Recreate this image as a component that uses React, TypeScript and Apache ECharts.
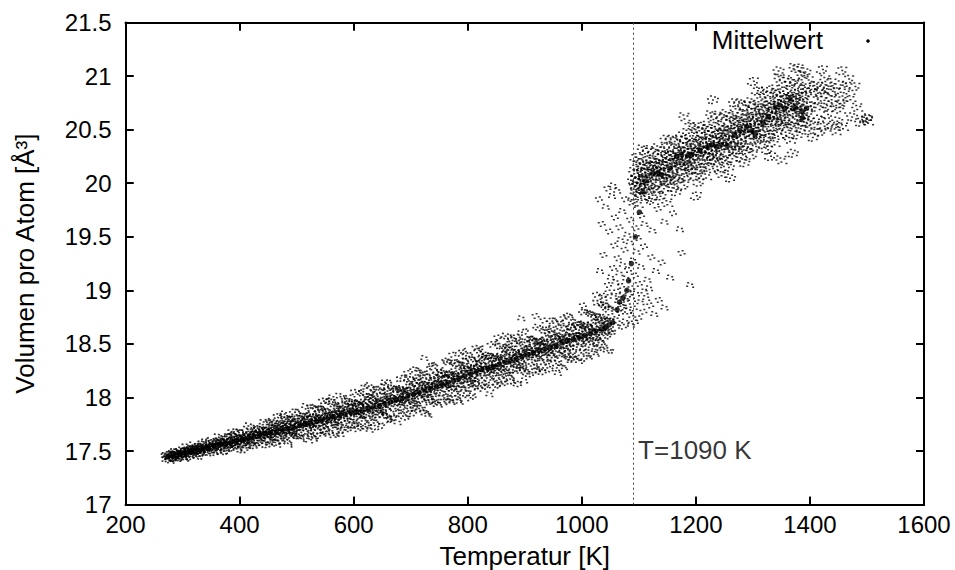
import React, { useEffect, useRef } from 'react';
import * as echarts from 'echarts';

// Axis ranges and ticks
const T_MIN = 200, T_MAX = 1600, T_STEP = 200;
const V_MIN = 17, V_MAX = 21.5, V_STEP = 0.5;
const tempTicks = [200, 400, 600, 800, 1000, 1200, 1400, 1600];
const volTicks = [17, 17.5, 18, 18.5, 19, 19.5, 20, 20.5, 21, 21.5];
const xTitle = 'Temperatur [K]';
const yTitle = 'Volumen pro Atom [Å³]';
const legendName = 'Mittelwert';
const transitionT = 1090;
const transitionLabel = 'T=1090 K';
const transitionLabelV = 17.51;

// Individual samples, lower (solid) branch
const cloudLow: [number, number][] = [
[271,17.45],[273,17.43],[274,17.47],[276,17.44],[277,17.46],[279,17.42],[280,17.45],[282,17.47],[283,17.44],[284,17.50],[286,17.46],[287,17.47],[288,17.42],[289,17.48],
[290,17.45],[292,17.48],[294,17.44],[295,17.47],[297,17.51],[298,17.47],[300,17.50],[301,17.43],[303,17.49],[304,17.47],[305,17.51],[307,17.48],[308,17.54],[309,17.46],
[311,17.52],[312,17.49],[313,17.50],[315,17.45],[316,17.52],[318,17.50],[319,17.55],[321,17.48],[322,17.52],[324,17.50],[325,17.45],[326,17.55],[328,17.52],[329,17.50],
[330,17.53],[331,17.48],[333,17.52],[334,17.54],[336,17.51],[337,17.59],[339,17.54],[340,17.49],[341,17.56],[343,17.52],[345,17.55],[346,17.48],[347,17.54],[349,17.58],
[351,17.55],[353,17.52],[354,17.59],[356,17.54],[357,17.57],[359,17.50],[360,17.55],[362,17.58],[363,17.53],[364,17.63],[366,17.55],[367,17.58],[368,17.49],[369,17.59],
[370,17.55],[372,17.59],[374,17.53],[375,17.58],[377,17.64],[378,17.56],[380,17.61],[381,17.51],[383,17.59],[384,17.56],[385,17.63],[387,17.58],[388,17.68],[389,17.55],
[391,17.64],[392,17.58],[393,17.61],[395,17.53],[396,17.63],[398,17.60],[399,17.68],[401,17.56],[402,17.62],[404,17.59],[405,17.51],[406,17.67],[408,17.62],[409,17.58],
[410,17.63],[411,17.56],[413,17.61],[414,17.65],[416,17.59],[417,17.73],[419,17.64],[420,17.56],[421,17.68],[423,17.62],[425,17.66],[426,17.55],[427,17.64],[429,17.70],
[431,17.65],[433,17.60],[434,17.71],[436,17.64],[437,17.68],[439,17.58],[440,17.65],[442,17.70],[443,17.63],[444,17.77],[446,17.65],[447,17.69],[448,17.56],[449,17.70],
[450,17.64],[452,17.71],[454,17.61],[455,17.68],[457,17.77],[458,17.66],[460,17.72],[461,17.58],[463,17.69],[464,17.64],[465,17.76],[467,17.68],[468,17.82],[469,17.63],
[471,17.75],[472,17.68],[473,17.72],[475,17.60],[476,17.74],[478,17.70],[479,17.82],[481,17.65],[482,17.74],[484,17.69],[485,17.58],[486,17.80],[488,17.73],[489,17.68],
[490,17.75],[491,17.65],[493,17.72],[494,17.78],[496,17.69],[497,17.87],[499,17.75],[500,17.64],[501,17.81],[503,17.72],[505,17.78],[506,17.63],[507,17.75],[509,17.83],
[511,17.76],[513,17.69],[514,17.83],[516,17.74],[517,17.79],[519,17.66],[520,17.76],[522,17.82],[523,17.72],[524,17.91],[526,17.76],[527,17.80],[528,17.63],[529,17.82],
[530,17.74],[532,17.82],[534,17.69],[535,17.79],[537,17.90],[538,17.76],[540,17.84],[541,17.65],[543,17.81],[544,17.74],[545,17.89],[547,17.79],[548,17.97],[549,17.72],
[551,17.88],[552,17.78],[553,17.83],[555,17.68],[556,17.86],[558,17.81],[559,17.96],[561,17.74],[562,17.85],[564,17.79],[565,17.65],[566,17.93],[568,17.84],[569,17.77],
[570,17.86],[571,17.74],[573,17.83],[574,17.90],[576,17.79],[577,18.01],[579,17.86],[580,17.72],[581,17.93],[583,17.82],[585,17.89],[586,17.70],[587,17.86],[589,17.96],
[591,17.87],[593,17.78],[594,17.96],[596,17.84],[597,17.91],[599,17.74],[600,17.87],[602,17.95],[603,17.82],[604,18.05],[606,17.86],[607,17.92],[608,17.71],[609,17.94],
[610,17.84],[612,17.94],[614,17.79],[615,17.90],[617,18.03],[618,17.86],[620,17.96],[621,17.73],[623,17.92],[624,17.84],[625,18.01],[627,17.89],[628,18.10],[629,17.81],
[631,18.00],[632,17.89],[633,17.94],[635,17.77],[636,17.97],[638,17.92],[639,18.08],[641,17.84],[642,17.96],[644,17.89],[645,17.73],[646,18.05],[648,17.95],[649,17.87],
[650,17.97],[651,17.84],[653,17.94],[654,18.01],[656,17.89],[657,18.14],[659,17.98],[660,17.82],[661,18.06],[663,17.94],[665,18.01],[666,17.80],[667,17.97],[669,18.09],
[671,17.99],[673,17.90],[674,18.08],[676,17.96],[677,18.03],[679,17.86],[680,17.99],[682,18.07],[683,17.94],[684,18.18],[686,17.98],[687,18.04],[688,17.82],[689,18.06],
[690,17.96],[692,18.07],[694,17.90],[695,18.02],[697,18.17],[698,17.98],[700,18.10],[701,17.85],[703,18.05],[704,17.96],[705,18.15],[707,18.02],[708,18.26],[709,17.94],
[711,18.14],[712,18.02],[713,18.08],[715,17.90],[716,18.12],[718,18.05],[719,18.23],[721,17.97],[722,18.11],[724,18.03],[725,17.86],[726,18.20],[728,18.09],[729,18.01],
[730,18.12],[731,17.98],[733,18.08],[734,18.16],[736,18.03],[737,18.30],[739,18.12],[740,17.96],[741,18.20],[743,18.08],[745,18.16],[746,17.94],[747,18.12],[749,18.24],
[751,18.13],[753,18.04],[754,18.23],[756,18.10],[757,18.18],[759,18.00],[760,18.13],[762,18.22],[763,18.08],[764,18.34],[766,18.13],[767,18.19],[768,17.96],[769,18.21],
[770,18.10],[772,18.22],[774,18.04],[775,18.17],[777,18.33],[778,18.13],[780,18.25],[781,17.99],[783,18.20],[784,18.11],[785,18.31],[787,18.17],[788,18.42],[789,18.08],
[791,18.30],[792,18.17],[793,18.23],[795,18.04],[796,18.27],[798,18.21],[799,18.39],[801,18.12],[802,18.26],[804,18.18],[805,18.00],[806,18.36],[808,18.25],[809,18.16],
[810,18.28],[811,18.13],[813,18.24],[814,18.32],[816,18.18],[817,18.46],[819,18.28],[820,18.11],[821,18.36],[823,18.23],[825,18.31],[826,18.09],[827,18.27],[829,18.40],
[831,18.29],[833,18.19],[834,18.39],[836,18.25],[837,18.33],[839,18.14],[840,18.28],[842,18.38],[843,18.23],[844,18.50],[846,18.28],[847,18.34],[848,18.10],[849,18.37],
[850,18.25],[852,18.38],[854,18.19],[855,18.32],[857,18.48],[858,18.28],[860,18.40],[861,18.13],[863,18.35],[864,18.25],[865,18.46],[867,18.32],[868,18.57],[869,18.23],
[871,18.45],[872,18.31],[873,18.38],[875,18.18],[876,18.42],[878,18.35],[879,18.54],[881,18.26],[882,18.40],[884,18.32],[885,18.13],[886,18.51],[888,18.39],[889,18.30],
[890,18.42],[891,18.26],[893,18.38],[894,18.46],[896,18.32],[897,18.61],[899,18.42],[900,18.25],[901,18.51],[903,18.37],[905,18.46],[906,18.22],[907,18.42],[909,18.55],
[911,18.44],[913,18.33],[914,18.54],[916,18.40],[917,18.48],[919,18.28],[920,18.43],[922,18.53],[923,18.37],[924,18.65],[926,18.43],[927,18.49],[928,18.24],[929,18.52],
[930,18.40],[932,18.52],[934,18.33],[935,18.47],[937,18.63],[938,18.42],[940,18.55],[941,18.27],[943,18.49],[944,18.40],[945,18.60],[947,18.46],[948,18.72],[949,18.37],
[951,18.59],[952,18.46],[953,18.52],[955,18.32],[956,18.56],[958,18.49],[959,18.69],[961,18.40],[962,18.55],[964,18.47],[965,18.28],[966,18.65],[968,18.54],[969,18.44],
[970,18.57],[971,18.40],[973,18.52],[974,18.61],[976,18.46],[977,18.76],[979,18.57],[980,18.38],[981,18.66],[983,18.51],[985,18.60],[986,18.36],[987,18.56],[989,18.70],
[991,18.58],[993,18.47],[994,18.68],[996,18.54],[997,18.63],[999,18.42],[1000,18.57],[1002,18.67],[1003,18.51],[1004,18.80],[1006,18.57],[1007,18.63],[1008,18.37],[1009,18.66],
[1010,18.54],[1012,18.67],[1014,18.47],[1015,18.61],[1017,18.78],[1018,18.57],[1020,18.70],[1021,18.41],[1023,18.64],[1024,18.54],[1025,18.76],[1027,18.61],[1028,18.88],[1029,18.52],
[1031,18.75],[1032,18.61],[1033,18.68],[1035,18.47],[1036,18.72],[1038,18.65],[1039,18.86],[1041,18.56],[1042,18.72],[1044,18.63],[1045,18.44],[1046,18.83],[1048,18.71],[1049,18.61]
];

// Scattered samples at the edges of the lower branch
const cloudLowEdge: [number, number][] = [
[452,17.77],[478,17.85],[489,17.80],[515,17.92],[533,17.89],[561,18.00],[572,17.92],[598,18.00],[619,18.10],[637,18.03],[655,18.11],[683,18.09],[694,18.23],[712,18.19],[738,18.28],[751,18.22],[773,18.40],[796,18.34],[818,18.44],[829,18.38],[852,18.56],[873,18.50],[886,18.57],[912,18.54],[933,18.72],[947,18.65],[968,18.74],[981,18.68],[1002,18.86],[1013,18.79],[1037,18.95],
[466,17.56],[497,17.64],[522,17.60],[546,17.69],[577,17.66],[603,17.75],[628,17.70],[662,17.80],[677,17.77],[705,17.90],[731,17.84],[763,17.97],[786,17.96],[807,18.08],[838,18.03],[861,18.16],[899,18.16],[921,18.26],[958,18.23],[977,18.35],[995,18.34],[1026,18.47],
[894,18.74],[919,18.76],[724,18.37],[763,18.33]
];

// Individual samples across the transition
const cloudTransition: [number, number][] = [
[1052,18.76],[1058,18.82],[1061,18.72],[1064,18.90],[1067,18.79],[1070,18.95],[1073,18.84],[1076,18.71],[1079,18.88],[1082,18.98],[1085,18.77],[1088,18.92],[1091,18.83],[1095,18.97],[1099,18.74],[1103,18.89],[1108,18.80],[1113,18.93],[1120,18.86],[1127,18.78],[1135,18.91],[1145,18.84],[1043,18.86],[1038,18.93],[1047,18.98],[1056,18.94],[1062,18.99],[1069,18.86],[1075,18.93],[1081,18.81],[1093,18.70],[1110,18.99],[1025,18.96],[1060,18.67],[1072,18.66],[1086,18.68],
[1046,19.05],[1051,19.12],[1055,19.21],[1059,19.08],[1063,19.30],[1066,19.16],[1069,19.04],[1072,19.24],[1075,19.38],[1078,19.11],[1081,19.19],[1084,19.45],[1087,19.02],[1090,19.28],[1093,19.14],[1096,19.36],[1100,19.06],[1104,19.22],[1109,19.41],[1115,19.10],[1122,19.31],[1130,19.18],[1140,19.26],[1155,19.12],[1175,19.35],[1190,19.05],[1038,19.33],[1032,19.18],[1057,19.42],[1068,19.47],[1098,19.49],[1118,19.02],
[1035,19.62],[1042,19.78],[1048,19.55],[1053,19.88],[1058,19.68],[1062,19.93],[1066,19.59],[1071,19.74],[1076,19.85],[1080,19.52],[1085,19.66],[1089,19.81],[1094,19.58],[1099,19.90],[1104,19.70],[1110,19.62],[1116,19.84],[1124,19.56],[1133,19.76],[1145,19.64],[1160,19.72],[1172,19.57],[1045,19.95],[1055,19.98],[1030,19.85],[1092,19.97]
];

// Individual samples, upper (liquid) branch
const cloudHigh: [number, number][] = [
[1090,20.03],[1091,19.88],[1092,20.11],[1093,19.98],[1094,20.24],[1095,20.03],[1096,19.93],[1097,20.09],[1098,19.81],[1099,20.16],[1100,20.03],[1101,20.21],[1102,19.97],[1103,20.07],[1104,19.88],[1105,20.15],[1106,20.02],[1107,20.32],[1108,19.94],[1109,20.10],
[1110,19.98],[1111,20.17],[1112,20.05],[1113,20.23],[1114,19.94],[1115,20.11],[1116,20.31],[1117,20.02],[1118,20.16],[1119,19.88],[1120,20.09],[1121,19.98],[1122,20.22],[1123,20.06],[1124,20.16],[1125,19.84],[1126,20.29],[1127,20.09],[1128,19.94],[1129,20.20],
[1130,20.11],[1131,19.96],[1132,20.19],[1133,20.06],[1134,20.33],[1135,20.11],[1136,20.01],[1137,20.17],[1138,19.88],[1139,20.25],[1140,20.11],[1141,20.30],[1142,20.05],[1143,20.16],[1144,19.95],[1145,20.23],[1146,20.10],[1147,20.41],[1148,20.02],[1149,20.18],
[1150,20.05],[1151,20.26],[1152,20.13],[1153,20.33],[1154,20.02],[1155,20.20],[1156,20.41],[1157,20.10],[1158,20.25],[1159,19.96],[1160,20.19],[1161,20.07],[1162,20.33],[1163,20.15],[1164,20.26],[1165,19.92],[1166,20.40],[1167,20.19],[1168,20.03],[1169,20.30],
[1170,20.22],[1171,20.05],[1172,20.30],[1173,20.16],[1174,20.44],[1175,20.21],[1176,20.11],[1177,20.28],[1178,19.98],[1179,20.36],[1180,20.21],[1181,20.41],[1182,20.16],[1183,20.26],[1184,20.06],[1185,20.34],[1186,20.21],[1187,20.53],[1188,20.13],[1189,20.29],
[1190,20.16],[1191,20.38],[1192,20.24],[1193,20.44],[1194,20.12],[1195,20.31],[1196,20.53],[1197,20.21],[1198,20.36],[1199,20.06],[1200,20.29],[1201,20.17],[1202,20.44],[1203,20.25],[1204,20.36],[1205,20.01],[1206,20.51],[1207,20.29],[1208,20.12],[1209,20.41],
[1210,20.32],[1211,20.15],[1212,20.40],[1213,20.26],[1214,20.54],[1215,20.31],[1216,20.21],[1217,20.38],[1218,20.07],[1219,20.46],[1220,20.31],[1221,20.51],[1222,20.25],[1223,20.36],[1224,20.15],[1225,20.45],[1226,20.31],[1227,20.64],[1228,20.22],[1229,20.39],
[1230,20.25],[1231,20.48],[1232,20.34],[1233,20.55],[1234,20.21],[1235,20.41],[1236,20.63],[1237,20.30],[1238,20.46],[1239,20.14],[1240,20.39],[1241,20.26],[1242,20.53],[1243,20.34],[1244,20.46],[1245,20.09],[1246,20.61],[1247,20.38],[1248,20.21],[1249,20.50],
[1250,20.41],[1251,20.23],[1252,20.50],[1253,20.35],[1254,20.65],[1255,20.41],[1256,20.29],[1257,20.48],[1258,20.15],[1259,20.57],[1260,20.40],[1261,20.62],[1262,20.34],[1263,20.46],[1264,20.23],[1265,20.55],[1266,20.41],[1267,20.75],[1268,20.31],[1269,20.50],
[1270,20.35],[1271,20.58],[1272,20.44],[1273,20.66],[1274,20.31],[1275,20.51],[1276,20.75],[1277,20.40],[1278,20.57],[1279,20.24],[1280,20.49],[1281,20.36],[1282,20.65],[1283,20.45],[1284,20.57],[1285,20.19],[1286,20.72],[1287,20.49],[1288,20.31],[1289,20.61],
[1290,20.52],[1291,20.34],[1292,20.61],[1293,20.46],[1294,20.76],[1295,20.52],[1296,20.40],[1297,20.59],[1298,20.26],[1299,20.68],[1300,20.51],[1301,20.73],[1302,20.45],[1303,20.57],[1304,20.34],[1305,20.66],[1306,20.52],[1307,20.86],[1308,20.42],[1309,20.61],
[1310,20.46],[1311,20.70],[1312,20.55],[1313,20.77],[1314,20.42],[1315,20.62],[1316,20.86],[1317,20.52],[1318,20.68],[1319,20.36],[1320,20.61],[1321,20.48],[1322,20.76],[1323,20.57],[1324,20.68],[1325,20.31],[1326,20.84],[1327,20.61],[1328,20.43],[1329,20.73],
[1330,20.64],[1331,20.46],[1332,20.73],[1333,20.58],[1334,20.88],[1335,20.64],[1336,20.52],[1337,20.71],[1338,20.38],[1339,20.80],[1340,20.63],[1341,20.85],[1342,20.57],[1343,20.69],[1344,20.46],[1345,20.78],[1346,20.64],[1347,20.98],[1348,20.54],[1349,20.73],
[1350,20.58],[1351,20.81],[1352,20.67],[1353,20.88],[1354,20.54],[1355,20.74],[1356,20.97],[1357,20.62],[1358,20.79],[1359,20.46],[1360,20.71],[1361,20.58],[1362,20.86],[1363,20.67],[1364,20.78],[1365,20.41],[1366,20.94],[1367,20.71],[1368,20.53],[1369,20.82],
[1370,20.73],[1371,20.55],[1372,20.81],[1373,20.66],[1374,20.95],[1375,20.71],[1376,20.59],[1377,20.77],[1378,20.45],[1379,20.85],[1380,20.69],[1381,20.90],[1382,20.62],[1383,20.73],[1384,20.51],[1385,20.81],[1386,20.67],[1387,21.00],[1388,20.57],[1389,20.75],
[1390,20.61],[1391,20.82],[1393,20.88],[1394,20.57],[1396,20.96],[1397,20.64],[1399,20.49],[1400,20.72],[1402,20.85],[1405,20.43],[1406,20.91],[1408,20.54],
[1410,20.71],[1412,20.78],[1414,20.91],[1416,20.60],[1418,20.48],[1419,20.83],[1421,20.87],[1424,20.53],[1427,20.97],[1429,20.74],
[1430,20.64],[1432,20.71],[1433,20.88],[1436,20.94],[1438,20.80],[1439,20.54],[1442,20.85],[1445,20.49],[1448,20.58],
[1450,20.74],[1453,20.69],[1454,20.92],[1457,20.78],[1458,20.53],[1461,20.88],[1467,20.97],
[1471,20.80],[1474,20.62],[1478,20.90],[1483,20.71],[1488,20.57],[1497,20.60],[1502,20.58],[1500,20.61],
[1455,21.05],[1380,21.07],[1345,21.05],[1421,21.06],[1373,21.08],[1392,21.04],[1300,20.95],[1180,20.62],[1230,20.78],[1330,20.25],[1350,20.22],[1260,20.05],[1200,19.88],[1150,19.82],[1370,20.28]
];

// Mittelwert (mean) points
const meanLow: [number, number][] = [
[275,17.45],[285,17.46],[295,17.47],[305,17.48],[315,17.50],[325,17.51],[335,17.52],[345,17.53],[355,17.55],[365,17.56],[375,17.57],[385,17.58],[395,17.60],[405,17.61],[415,17.62],[425,17.63],[435,17.65],[445,17.66],[455,17.67],[465,17.69],[475,17.70],[485,17.71],[495,17.72],[505,17.74],[515,17.75],[525,17.76],[535,17.78],[545,17.79],[555,17.80],[565,17.82],[575,17.83],[585,17.84],[595,17.86],[605,17.87],[615,17.88],[625,17.90],[635,17.91],[645,17.92],[655,17.94],[665,17.96],[675,17.98],[685,17.99],[695,18.01],[705,18.03],[715,18.05],[725,18.07],[735,18.08],[745,18.10],[755,18.12],[765,18.14],[775,18.16],[785,18.18],[795,18.20],[805,18.22],[815,18.24],[825,18.26],[835,18.27],[845,18.29],[855,18.31],[865,18.33],[875,18.35],[885,18.36],[895,18.38],[905,18.40],[915,18.42],[925,18.44],[935,18.45],[945,18.47],[955,18.49],[965,18.51],[975,18.53],[985,18.54],[995,18.56],[1005,18.58],[1015,18.60],[1025,18.62],[1035,18.64],[1042,18.66],[1048,18.68]
];
const meanTransition: [number, number][] = [
[1054,18.70],[1062,18.82],[1066,18.89],[1072,18.93],[1079,19.00],[1082,19.09],[1087,19.25],[1094,19.50],[1101,19.73],[1107,19.92],[1111,20.02]
];
const meanHigh: [number, number][] = [
[1125,20.09],[1134,20.10],[1140,20.08],[1155,20.14],[1166,20.25],[1175,20.27],[1186,20.26],[1193,20.27],[1207,20.31],[1220,20.34],[1228,20.36],[1236,20.34],[1245,20.36],[1255,20.35],[1268,20.45],[1277,20.49],[1289,20.53],[1298,20.49],[1304,20.46],[1318,20.56],[1327,20.62],[1339,20.71],[1347,20.73],[1356,20.70],[1365,20.79],[1374,20.70],[1386,20.67],[1387,20.61],[1394,20.70]
];

const FONT = '"Liberation Sans", Arial, sans-serif';

// Marker shapes: every sample is drawn as a small speckle of dashes (dense gnuplot dot cloud look)
const SPECKLE_LOW = [
  'path://M0,2h2v1.5h-2z M3,0h2v1.5h-2z M5,3h2v1.5h-2z M8,1h2v1.5h-2z M10,4.5h2v1.5h-2z M2,4.5h2v1.5h-2z M6,0.5h2v1.5h-2z M9,2.8h2v1.5h-2z',
  'path://M0,3.5h2v1.5h-2z M1,0h2v1.5h-2z M4,2h2v1.5h-2z M7,4.5h2v1.5h-2z M9,0.5h2v1.5h-2z M10,2.5h2v1.5h-2z M3,4.5h2v1.5h-2z M6,0h2v1.5h-2z',
  'path://M0,1h2v1.5h-2z M2,4.5h2v1.5h-2z M4,0h2v1.5h-2z M5,2.5h2v1.5h-2z M7,4h2v1.5h-2z M8,0.8h2v1.5h-2z M10,3h2v1.5h-2z M10,0h2v1.5h-2z',
];
const SPECKLE_HIGH = [
  'path://M0,3h2v1.5h-2z M3,0h2v1.5h-2z M7,1h2v1.5h-2z M5,4h2v1.5h-2z M1,7h2v1.5h-2z M9,6h2v1.5h-2z M4,7.5h2v1.5h-2z M10,2.5h2v1.5h-2z',
  'path://M0,6h2v1.5h-2z M2,1h2v1.5h-2z M5,0h2v1.5h-2z M6,3.5h2v1.5h-2z M9,5h2v1.5h-2z M10,0.5h2v1.5h-2z M3,7.5h2v1.5h-2z M7,7h2v1.5h-2z',
  'path://M1,0h2v1.5h-2z M0,4h2v1.5h-2z M4,2h2v1.5h-2z M8,3h2v1.5h-2z M10,7.5h2v1.5h-2z M5,6h2v1.5h-2z M2,7.5h2v1.5h-2z M9,0.5h2v1.5h-2z',
];
const SPECKLE_SPARSE = [
  'path://M0,1h2v1.5h-2z M4,0h2v1.5h-2z M2,4.5h2v1.5h-2z M6,3h2v1.5h-2z',
  'path://M1,0h2v1.5h-2z M0,3.5h2v1.5h-2z M5,1.5h2v1.5h-2z M6,4.5h2v1.5h-2z',
];

// Layout of the plot frame (pixels)
const GRID = { left: 125.5, right: 31, top: 22.5, bottom: 65.3 };
const CHART_W = 955, CHART_H = 570;
const TICK_PX = 8;

export default function App() {
  const ref = useRef<HTMLDivElement>(null);
  useEffect(() => {
    if (!ref.current) return;
    const chart = echarts.init(ref.current, null, { renderer: 'svg' });
    const line = { show: true, onZero: false, lineStyle: { color: '#000', width: 2 } };
    const cloudBase = {
      type: 'scatter' as const,
      itemStyle: { color: '#000' },
      silent: true,
      z: 2,
    };
    const meanStyle = {
      type: 'scatter' as const,
      symbol: 'circle',
      symbolSize: 5.5,
      itemStyle: { color: '#000' },
      silent: true,
      z: 3,
    };
    // tick length expressed in axis units, so that ticks are drawn through the axes' scales
    const plotW = CHART_W - GRID.left - GRID.right;
    const plotH = CHART_H - GRID.top - GRID.bottom;
    const tickT = (TICK_PX * (T_MAX - T_MIN)) / plotW;
    const tickV = (TICK_PX * (V_MAX - V_MIN)) / plotH;
    const tickSegments: any[] = [];
    tempTicks.forEach((t) => {
      tickSegments.push([{ coord: [t, V_MIN] }, { coord: [t, V_MIN + tickV] }]);
      tickSegments.push([{ coord: [t, V_MAX] }, { coord: [t, V_MAX - tickV] }]);
    });
    volTicks.forEach((v) => {
      tickSegments.push([{ coord: [T_MIN, v] }, { coord: [T_MIN + tickT, v] }]);
      tickSegments.push([{ coord: [T_MAX, v] }, { coord: [T_MAX - tickT, v] }]);
    });
    chart.setOption({
      animation: false,
      backgroundColor: '#fff',
      grid: { ...GRID, show: false, containLabel: false, outerBoundsMode: 'none' },
      xAxis: [
        {
          type: 'value', min: T_MIN, max: T_MAX, interval: T_STEP, position: 'bottom',
          name: xTitle, nameLocation: 'middle', nameGap: 38,
          nameTextStyle: { fontFamily: FONT, fontSize: 26, color: '#000' },
          axisLine: line, axisTick: { show: true, inside: true, length: TICK_PX, lineStyle: { color: '#000', width: 2 } }, splitLine: { show: false },
          axisLabel: { fontFamily: FONT, fontSize: 24, color: '#000', margin: 8, formatter: (v: number) => String(v) },
        },
        {
          type: 'value', min: T_MIN, max: T_MAX, interval: T_STEP, position: 'top',
          axisLine: line, axisTick: { show: true, inside: true, length: TICK_PX, lineStyle: { color: '#000', width: 2 } }, splitLine: { show: false }, axisLabel: { show: false },
        },
      ],
      yAxis: [
        {
          type: 'value', min: V_MIN, max: V_MAX, interval: V_STEP, position: 'left',
          name: yTitle, nameLocation: 'middle', nameGap: 88,
          nameTextStyle: { fontFamily: FONT, fontSize: 26, color: '#000' },
          axisLine: line, axisTick: { show: true, inside: true, length: TICK_PX, lineStyle: { color: '#000', width: 2 } }, splitLine: { show: false },
          axisLabel: { fontFamily: FONT, fontSize: 24, color: '#000', margin: 14, formatter: (v: number) => String(v) },
        },
        {
          type: 'value', min: V_MIN, max: V_MAX, interval: V_STEP, position: 'right',
          axisLine: line, axisTick: { show: true, inside: true, length: TICK_PX, lineStyle: { color: '#000', width: 2 } }, splitLine: { show: false }, axisLabel: { show: false },
        },
      ],
      graphic: [
        { type: 'text', x: 823, y: 40, z: 100, style: { text: legendName, fontFamily: FONT, fontSize: 26, fill: '#000', align: 'right', verticalAlign: 'middle' } },
        { type: 'circle', z: 100, shape: { cx: 868, cy: 41, r: 1.8 }, style: { fill: '#000' } },
      ],
      series: [
        {
          ...cloudBase, name: 'cloudLow', data: cloudLow, symbolSize: [12, 6.5],
          symbol: (_v: any, p: any) => SPECKLE_LOW[p.dataIndex % 3],
          symbolRotate: (_v: any, p: any) => ((p.dataIndex * 37) % 50) - 25,
        },
        {
          ...cloudBase, name: 'cloudLowEdge', data: cloudLowEdge, symbolSize: [8, 6],
          symbol: (_v: any, p: any) => SPECKLE_SPARSE[p.dataIndex % 2],
        },
        {
          ...cloudBase, name: 'cloudTransition', data: cloudTransition, symbolSize: [8, 6],
          symbol: (_v: any, p: any) => SPECKLE_SPARSE[p.dataIndex % 2],
        },
        {
          ...cloudBase, name: 'cloudHigh', data: cloudHigh, symbolSize: [12, 9],
          symbol: (_v: any, p: any) => SPECKLE_HIGH[p.dataIndex % 3],
        },
        { ...meanStyle, name: legendName, data: meanLow },
        { ...meanStyle, name: legendName + ' ', data: meanTransition },
        { ...meanStyle, name: legendName + '  ', data: meanHigh },
        {
          type: 'scatter', name: 'transition', data: [[transitionT, transitionLabelV]], symbolSize: 0, silent: true, z: 4,
          label: { show: true, position: 'right', distance: 5, formatter: transitionLabel, fontFamily: FONT, fontSize: 26, color: '#000' },
          markLine: {
            silent: true, symbol: ['none', 'none'], label: { show: false },
            lineStyle: { type: [2, 3], color: '#444', width: 1 },
            data: [{ xAxis: transitionT }],
          },
        },
        {
          type: 'scatter', name: 'frameTicks', data: [[T_MIN, V_MIN]], symbolSize: 0, silent: true, z: 6,
          markLine: {
            silent: true, symbol: ['none', 'none'], label: { show: false }, animation: false,
            lineStyle: { type: 'solid', color: '#000', width: 2 },
            emphasis: { disabled: true },
            data: tickSegments,
          },
        },
      ],
    });
    return () => chart.dispose();
  }, []);
  return <div ref={ref} style={{ position: 'fixed', left: 0, top: 0, width: CHART_W, height: CHART_H, background: '#fff' }} />;
}
